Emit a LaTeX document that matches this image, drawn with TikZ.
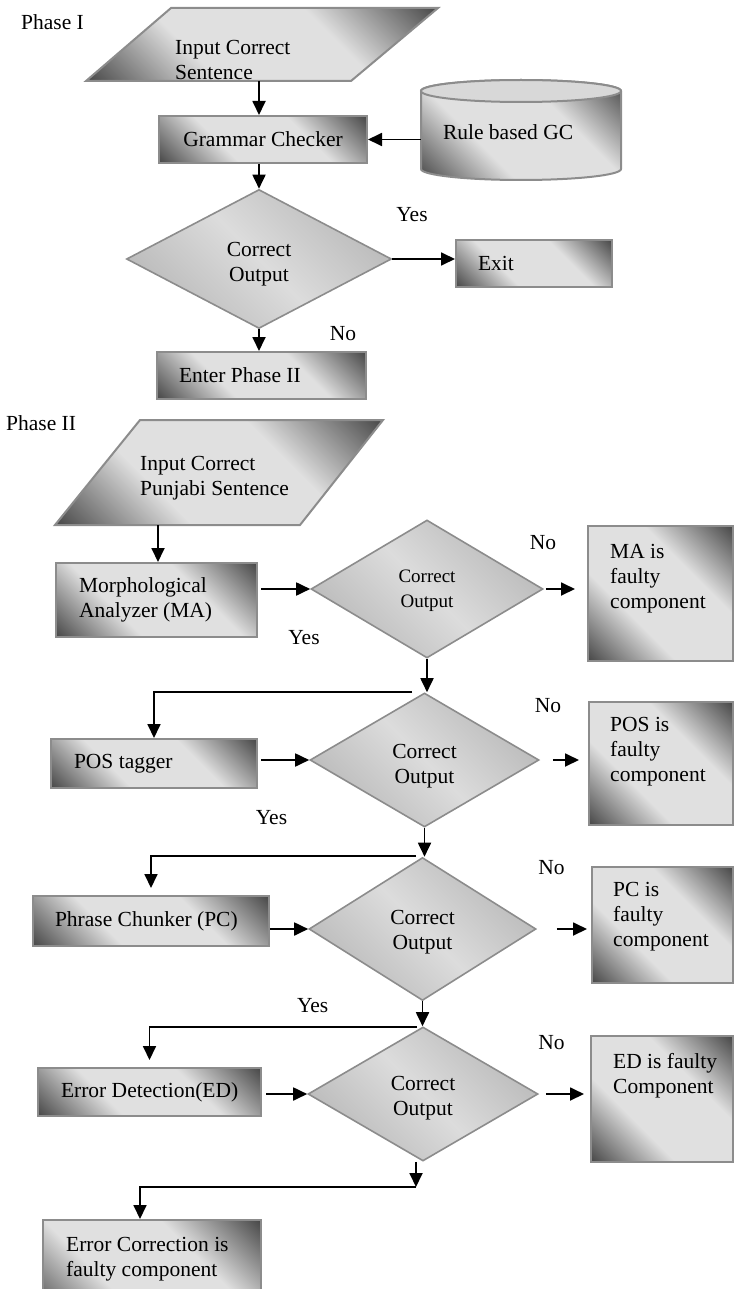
\documentclass[tikz,border=0pt]{standalone}
\usepackage{fontspec}
\setmainfont{Liberation Serif}
\usetikzlibrary{shapes.geometric,arrows.meta}

\definecolor{boxdark}{HTML}{4A4A4A}
\definecolor{boxlight}{HTML}{E0E0E0}
\definecolor{dmdark}{HTML}{B0B0B0}
\definecolor{dmlight}{HTML}{DCDCDC}
\definecolor{edge}{HTML}{8C8C8C}
\definecolor{cyltop}{HTML}{D8D8D8}

% dark corners (bottom-left, top-right), light diagonal band
\pgfdeclarehorizontalshading{boxshade}{100bp}{color(0bp)=(boxdark); color(15bp)=(boxdark); color(37bp)=(boxlight); color(63bp)=(boxlight); color(85bp)=(boxdark); color(100bp)=(boxdark)}
\pgfdeclarehorizontalshading{dmshade}{100bp}{color(0bp)=(dmdark); color(18bp)=(dmdark); color(50bp)=(dmlight); color(82bp)=(dmdark); color(100bp)=(dmdark)}

\begin{document}
\begin{tikzpicture}[x=1pt,y=1pt,
  every node/.style={inner sep=0pt, font=\fontsize{21.5}{25}\selectfont,
    execute at begin node={\spaceskip=0pt\relax\xspaceskip=0pt\relax}},
  proc/.style={rectangle, draw=edge, line width=2pt, shade, shading=boxshade, shading angle=45},
  dec/.style={diamond, draw=edge, line width=1.6pt, shade, shading=dmshade, shading angle=45},
  dectext/.style={align=center},
  shapefill/.style={draw=edge, line width=2pt, shade, shading=boxshade, shading angle=45},
  arr/.style={-{Triangle[length=14pt,width=13pt]}, line width=1.8pt}]
\useasboundingbox (0,0) rectangle (734,-1289);
\clip (0,0) rectangle (734,-1289);

% ---------------- Phase I ----------------
\node[anchor=west] (ph1) at (21,-22) {Phase I};

\path[shapefill] (86,-81) -- (171,-8) -- (438,-8) -- (351,-81) -- cycle;
\node[anchor=west, align=left] (in1) at (175,-59.5) {Input Correct\\Sentence};
\coordinate (in1b) at (259,-81);

\node[proc, minimum width=208pt, minimum height=47pt] (gc) at (263,-139.5) {Grammar Checker};

% rule base drawn as a cylinder
\path[shapefill] (421,-91) -- (421,-169)
  arc[start angle=180, end angle=360, x radius=100pt, y radius=11pt]
  -- (621,-91)
  arc[start angle=0, end angle=180, x radius=100pt, y radius=11pt] -- cycle;
\draw[draw=edge, line width=2pt, fill=cyltop] (521,-91) ellipse[x radius=100pt, y radius=11pt];
\node[text width=156pt, inner xsep=22pt, align=left] (rgc) at (521,-132) {Rule based GC};

\node[dec, minimum width=265pt, minimum height=139pt] (d1) at (259,-259) {};
\node[dectext] (d1t) at (259,-264) {Correct\\Output};
\node (yes1) at (412,-215) {Yes};
\node[proc, minimum width=156pt, minimum height=47pt, text width=112pt, inner xsep=22pt, align=left] (exit) at (534,-263.5) {Exit};
\node (no1) at (343,-334) {No};
\node[proc, minimum width=209pt, minimum height=47pt, text width=165pt, inner xsep=22pt, align=left] (ep2) at (261.5,-375.5) {Enter Phase II};

\draw[arr] (in1b) -- (in1b |- gc.north);
\draw[arr] (rgc.west |- gc.east) -- (gc.east);
\draw[arr] (d1.north |- gc.south) -- (d1.north);
\draw[arr] (d1.east) -- (d1.east -| exit.west);
\draw[arr] (d1.south) -- (d1.south |- ep2.north);

% ---------------- Phase II ----------------
\node[anchor=west] (ph2) at (6,-423) {Phase II};

\path[shapefill] (55,-525) -- (140,-420) -- (383,-420) -- (300,-525) -- cycle;
\node[anchor=west, align=left] (in2) at (140,-478) {Input Correct\\Punjabi Sentence};
\coordinate (in2b) at (158,-525);

% stage 1: morphological analyzer
\node[proc, minimum width=201pt, minimum height=74pt, text width=155pt, inner xsep=23pt, align=left] (ma) at (156.5,-600) {Morphological\\Analyzer (MA)};
\node[dec, minimum width=232pt, minimum height=138pt] (d2) at (427,-589) {};
\node[dectext, font=\fontsize{19}{25}\selectfont] (d2t) at (427,-591) {Correct\\Output};
\node (no2) at (543,-543) {No};
\node (yes2) at (304,-638) {Yes};
\node[proc, minimum width=145pt, minimum height=135pt] (maf) at (660.5,-593.5) {};
\node[anchor=north west, align=left] (maftxt) at (610,-544) {MA is\\faulty\\component};

\draw[arr] (in2b) -- (in2b |- ma.north);
\draw[arr] ([xshift=3pt]ma.east |- d2.west) -- (d2.west);
\draw[arr, shorten >=12pt] ([xshift=2pt]d2.east) -- (d2.east -| maf.west);

% stage 2: POS tagger
\node[proc, minimum width=206pt, minimum height=49pt, text width=160pt, inner xsep=23pt, align=left] (pos) at (154,-763.5) {POS tagger};
\node[dec, minimum width=229pt, minimum height=134pt] (d3) at (424.5,-760) {};
\node[dectext] (d3t) at (424.5,-766) {Correct\\Output};
\node (no3) at (548,-706) {No};
\node (yes3) at (271.5,-818) {Yes};
\node[proc, minimum width=144pt, minimum height=123pt] (posf) at (661,-763.5) {};
\node[anchor=north west, align=left] (posftxt) at (610,-717) {POS is\\faulty\\component};
\coordinate (j1) at (412,-692);

\draw[arr] (d2.south) -- (d2.south |- d3.north);
\draw[arr] (j1) -| (pos.north);
\draw[arr] ([xshift=3pt]pos.east |- d3.west) -- (d3.west);
\draw[arr, shorten >=9pt] ([xshift=13pt]d3.east) -- (d3.east -| posf.west);

% stage 3: phrase chunker
\node[proc, minimum width=236pt, minimum height=50pt, text width=192pt, inner xsep=22pt, align=left] (pc) at (151,-921) {Phrase Chunker (PC)};
\node[dec, minimum width=227pt, minimum height=143pt] (d4) at (422.5,-929) {};
\node[dectext] (d4t) at (422.5,-932) {Correct\\Output};
\node (no4) at (551.5,-868) {No};
\node (yes4) at (312.7,-1006) {Yes};
\node[proc, minimum width=141pt, minimum height=116pt] (pcf) at (662.5,-925) {};
\node[anchor=north west, align=left] (pcftxt) at (613,-882) {PC is\\faulty\\component};
\coordinate (j2) at (416,-856);

\draw[arr] (d3.south) -- (d3.south |- d4.north);
\draw[arr, shorten >=7pt] (j2) -| (pc.north);
\draw[arr] (pc.east |- d4.west) -- (d4.west);
\draw[arr, shorten >=4pt] ([xshift=20pt]d4.east) -- (d4.east -| pcf.west);

% stage 4: error detection
\node[proc, minimum width=223pt, minimum height=48pt, text width=177pt, inner xsep=23pt, align=left] (ed) at (149.5,-1092) {\mbox{Error Detection(ED)}};
\node[dec, minimum width=230pt, minimum height=134pt] (d5) at (423,-1094) {};
\node[dectext] (d5t) at (423,-1098) {Correct\\Output};
\node (no5) at (551.5,-1043) {No};
\node[proc, minimum width=142pt, minimum height=126pt] (edf) at (662,-1099) {};
\node[anchor=north west, align=left] (edftxt) at (613,-1053) {ED is faulty\\Component};
\coordinate (j3) at (417,-1027);

\draw[arr] (d4.south) -- (d4.south |- d5.north);
\draw[arr, shorten >=7pt] (j3) -| (ed.north);
\draw[arr] ([xshift=4pt]ed.east |- d5.west) -- (d5.west);
\draw[arr, shorten >=6pt] ([xshift=7pt]d5.east) -- (d5.east -| edf.west);

% final outcome
\node[proc, minimum width=218pt, minimum height=100pt] (ec) at (152,-1270) {};
\node[anchor=north west, align=left] (ectxt) at (66,-1237) {Error Correction is\\faulty component};
\coordinate (j4) at (416,-1187);

\draw[arr] (j4 |- d5.south) -- (j4);
\draw[arr] (j4) -| ([xshift=-12pt]ec.north);
\end{tikzpicture}
\end{document}
